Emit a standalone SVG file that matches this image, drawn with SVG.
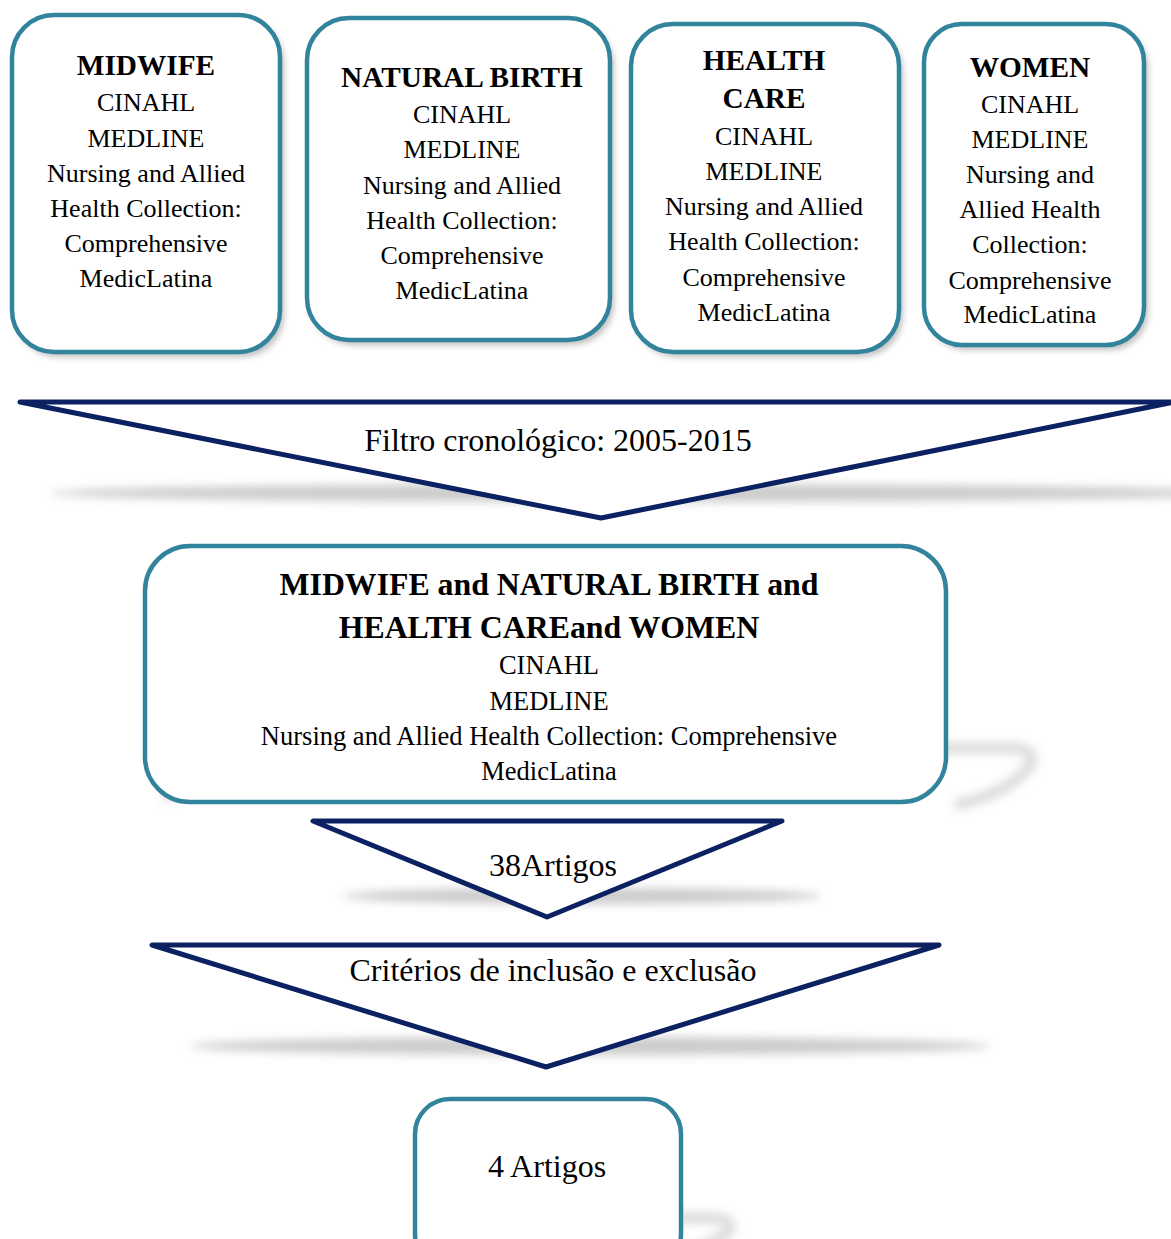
<svg xmlns="http://www.w3.org/2000/svg" width="1171" height="1239" viewBox="0 0 1171 1239">
<defs>
<filter id="blur" x="-20%" y="-50%" width="140%" height="200%"><feGaussianBlur stdDeviation="5"/></filter>
<filter id="blur2" x="-20%" y="-20%" width="140%" height="140%"><feGaussianBlur stdDeviation="3"/></filter>
<filter id="blur3" x="-20%" y="-40%" width="140%" height="180%"><feGaussianBlur stdDeviation="5"/></filter>
<style>
.box{fill:#fff;stroke:#31849B;stroke-width:4.5}
.shd{fill:#8a8a8a;opacity:0.55;filter:url(#blur2)}
.tri{fill:#fff;stroke:#0B2161;stroke-width:5;stroke-linejoin:round;stroke-linecap:round}
.tshd{fill:#b5b5b5;opacity:0.7;filter:url(#blur)}
.cshd{fill:none;stroke:#bdbdbd;stroke-width:11;opacity:0.55;filter:url(#blur3)}
text{font-family:"Liberation Serif","Times New Roman",serif;fill:#000;text-anchor:middle}
.h{font-weight:bold;font-size:29.3px}
.t{font-size:26px}
.mh{font-weight:bold;font-size:31.8px}
.mt{font-size:26.5px}
.big{font-size:32px}
</style>
</defs>
<rect width="1171" height="1239" fill="#fff"/>

<g id="connectors">
<ellipse class="tshd" cx="640" cy="493" rx="590" ry="9"/>
<polygon class="tri" points="20,402 1174,402 601,518"/>
<text class="big" x="558" y="451">Filtro cronológico: 2005-2015</text>

<ellipse class="tshd" cx="582" cy="896" rx="240" ry="8"/>
<polygon class="tri" points="313,821 782,821 547,917"/>
<text class="big" x="553" y="876">38Artigos</text>

<ellipse class="tshd" cx="590" cy="1046" rx="400" ry="9"/>
<polygon class="tri" points="152,945 939,945 546,1067"/>
<text class="big" x="553" y="981">Critérios de inclusão e exclusão</text>
</g>

<g id="node-midwife">
<rect class="shd" x="16" y="20" width="268" height="337" rx="42"/>
<rect class="box" x="12" y="15" width="268" height="337" rx="42"/>
<text class="h" x="146" y="75">MIDWIFE</text>
<text class="t" x="146" y="111">CINAHL</text>
<text class="t" x="146" y="147">MEDLINE</text>
<text class="t" x="146" y="182">Nursing and Allied</text>
<text class="t" x="146" y="217">Health Collection:</text>
<text class="t" x="146" y="252">Comprehensive</text>
<text class="t" x="146" y="287">MedicLatina</text>
</g>

<g id="node-natural-birth">
<rect class="shd" x="311" y="23" width="303" height="322" rx="42"/>
<rect class="box" x="307" y="18" width="303" height="322" rx="42"/>
<text class="h" x="462" y="87">NATURAL BIRTH</text>
<text class="t" x="462" y="123">CINAHL</text>
<text class="t" x="462" y="158">MEDLINE</text>
<text class="t" x="462" y="194">Nursing and Allied</text>
<text class="t" x="462" y="229">Health Collection:</text>
<text class="t" x="462" y="264">Comprehensive</text>
<text class="t" x="462" y="299">MedicLatina</text>
</g>

<g id="node-health-care">
<rect class="shd" x="635" y="29" width="268" height="328" rx="42"/>
<rect class="box" x="631" y="24" width="268" height="328" rx="42"/>
<text class="h" x="764" y="70">HEALTH</text>
<text class="h" x="764" y="108">CARE</text>
<text class="t" x="764" y="145">CINAHL</text>
<text class="t" x="764" y="180">MEDLINE</text>
<text class="t" x="764" y="215">Nursing and Allied</text>
<text class="t" x="764" y="250">Health Collection:</text>
<text class="t" x="764" y="286">Comprehensive</text>
<text class="t" x="764" y="321">MedicLatina</text>
</g>

<g id="node-women">
<rect class="shd" x="928" y="29" width="220" height="321" rx="38"/>
<rect class="box" x="924" y="24" width="220" height="321" rx="38"/>
<text class="h" x="1030" y="77">WOMEN</text>
<text class="t" x="1030" y="113">CINAHL</text>
<text class="t" x="1030" y="148">MEDLINE</text>
<text class="t" x="1030" y="183">Nursing and</text>
<text class="t" x="1030" y="218">Allied Health</text>
<text class="t" x="1030" y="253">Collection:</text>
<text class="t" x="1030" y="289">Comprehensive</text>
<text class="t" x="1030" y="323">MedicLatina</text>
</g>

<g id="node-combined">
<rect x="145" y="546" width="801" height="256" rx="45" fill="#fff"/>
<path class="cshd" d="M 165 800 Q 195 755 255 748 L 1015 748 Q 1040 752 1028 768 Q 1005 795 955 805"/>
<rect class="box" x="145" y="546" width="801" height="256" rx="45" fill="none"/>
<text class="mh" x="549" y="595">MIDWIFE and NATURAL BIRTH and</text>
<text class="mh" x="549" y="638">HEALTH CAREand WOMEN</text>
<text class="mt" x="549" y="674">CINAHL</text>
<text class="mt" x="549" y="710">MEDLINE</text>
<text class="mt" x="549" y="745">Nursing and Allied Health Collection: Comprehensive</text>
<text class="mt" x="549" y="780">MedicLatina</text>
</g>

<g id="node-result">
<rect x="415" y="1099" width="266" height="170" rx="35" fill="#fff"/>
<path class="cshd" d="M 428 1245 Q 450 1222 490 1218 L 718 1218 Q 735 1222 728 1232 Q 712 1245 688 1252"/>
<rect class="box" x="415" y="1099" width="266" height="170" rx="35" fill="none"/>
<text class="big" x="547" y="1177">4 Artigos</text>
</g>
</svg>
